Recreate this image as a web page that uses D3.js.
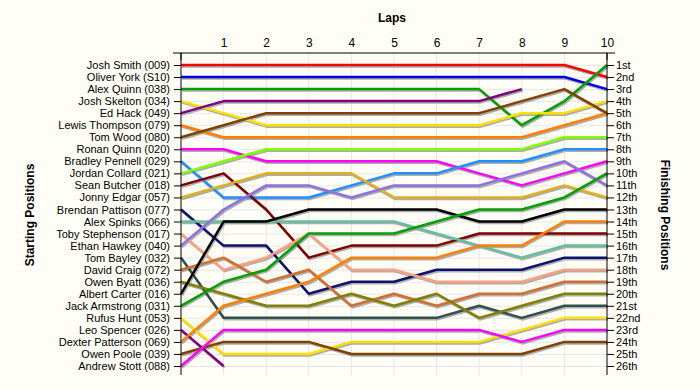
<!DOCTYPE html>
<html>
<head>
<meta charset="utf-8">
<script src="https://cdn.jsdelivr.net/npm/d3@7"></script>
<style>
  body { margin: 0; background: #fffef6; }
  svg { display: block; font-family: "Liberation Sans", Arial, sans-serif; }
  .axis path, .axis line { stroke: #000; }
  .axis text { font-size: 11px; fill: #000; }
  .grid line { stroke: #e6e6e6; }
</style>
</head>
<body>
<div class="bump-chart-container"></div>
<script>
const laps = [0, 1, 2, 3, 4, 5, 6, 7, 8, 9, 10];

const drivers = [
  "Josh Smith (009)", "Oliver York (S10)", "Alex Quinn (038)", "Josh Skelton (034)",
  "Ed Hack (049)", "Lewis Thompson (079)", "Tom Wood (080)", "Ronan Quinn (020)",
  "Bradley Pennell (029)", "Jordan Collard (021)", "Sean Butcher (018)", "Jonny Edgar (057)",
  "Brendan Pattison (077)", "Alex Spinks (066)", "Toby Stephenson (017)", "Ethan Hawkey (040)",
  "Tom Bayley (032)", "David Craig (072)", "Owen Byatt (036)", "Albert Carter (016)",
  "Jack Armstrong (031)", "Rufus Hunt (053)", "Leo Spencer (026)", "Dexter Patterson (069)",
  "Owen Poole (039)", "Andrew Stott (088)"
];

const finishLabels = [
  "1st", "2nd", "3rd", "4th", "5th", "6th", "7th", "8th", "9th", "10th", "11th", "12th", "13th",
  "14th", "15th", "16th", "17th", "18th", "19th", "20th", "21st", "22nd", "23rd", "24th", "25th", "26th"
];

// position of each driver at lap 0..10 (null = retired)
const positions = [
  [1, 1, 1, 1, 1, 1, 1, 1, 1, 1, 2],
  [2, 2, 2, 2, 2, 2, 2, 2, 2, 2, 3],
  [3, 3, 3, 3, 3, 3, 3, 3, 6, 4, 1],
  [4, 5, 6, 6, 6, 6, 6, 6, 5, 5, 4],
  [5, 4, 4, 4, 4, 4, 4, 4, 3, null, null],
  [6, 7, 7, 7, 7, 7, 7, 7, 7, 6, 5],
  [7, 6, 5, 5, 5, 5, 5, 5, 4, 3, 5],
  [8, 8, 9, 9, 9, 9, 9, 10, 11, 10, 9],
  [9, 12, 12, 12, 11, 10, 10, 9, 9, 8, 8],
  [10, 9, 8, 8, 8, 8, 8, 8, 8, 7, 7],
  [11, 10, 13, 17, 16, 16, 16, 15, 15, 15, 15],
  [12, 11, 10, 10, 10, 12, 12, 12, 12, 11, 12],
  [13, 16, 16, 20, 19, 19, 18, 18, 18, 17, 17],
  [14, 14, 14, 14, 14, 14, 15, 16, 17, 16, 16],
  [15, 18, 17, 15, 18, 18, 19, 19, 19, 18, 18],
  [16, 13, 11, 11, 12, 11, 11, 11, 10, 9, 11],
  [17, 22, 22, 22, 22, 22, 22, 21, 22, 21, 21],
  [18, 17, 19, 18, 21, 20, 21, 20, 20, 19, 19],
  [19, 20, 21, 21, 20, 21, 20, 22, 21, 20, 20],
  [20, 14, 14, 13, 13, 13, 13, 14, 14, 13, 13],
  [21, 19, 18, 15, 15, 15, 14, 13, 13, 12, 10],
  [22, 25, 25, 25, 24, 24, 24, 24, 23, 22, 22],
  [23, 26, null, null, null, null, null, null, null, null, null],
  [24, 21, 20, 19, 17, 17, 17, 16, 16, 14, 14],
  [25, 24, 24, 24, 25, 25, 25, 25, 25, 24, 24],
  [26, 23, 23, 23, 23, 23, 23, 23, 24, 23, 23]
];

const colors = [
  "#ff0000", "#0000e0", "#00a000", "#ffe000", "#800080", "#ff8000", "#804000", "#ff00ff",
  "#2090ff", "#80ff00", "#800000", "#e0b020", "#101070", "#60c0a0", "#ffa080", "#9070e0",
  "#305050", "#d07030", "#808000", "#000000", "#00a000", "#ffe000", "#800080", "#ff8000",
  "#804000", "#ff00ff"
];

const width = 700;
const height = 390;

const svg = d3.select(".bump-chart-container").append("svg")
  .attr("width", width)
  .attr("height", height);

svg.append("rect").attr("width", width).attr("height", height).attr("fill", "#fffef6");

const xScale = d3.scaleLinear().domain([0, 10]).range([181, 607]);
const yScale = d3.scaleLinear().domain([1, 26]).range([65, 366]);
const rows = d3.range(1, 27);

// grid
const grid = svg.append("g").attr("class", "grid");
grid.selectAll(".v").data(laps.slice(1, 10)).enter().append("line")
  .attr("x1", d => xScale(d)).attr("x2", d => xScale(d))
  .attr("y1", 53).attr("y2", 375);
grid.selectAll(".h").data(rows).enter().append("line")
  .attr("x1", 181).attr("x2", 607)
  .attr("y1", d => yScale(d) + 0.5).attr("y2", d => yScale(d) + 0.5)
  .attr("stroke", "#f0f0f0");

const line = d3.line()
  .defined(d => d != null)
  .x((d, i) => xScale(i))
  .y(d => yScale(d));

// shadows first, then coloured lines
svg.append("g").selectAll("path").data(positions).enter().append("path")
  .attr("d", line)
  .attr("transform", "translate(1,1.5)")
  .attr("fill", "none")
  .attr("stroke", "#999")
  .attr("stroke-opacity", 0.8)
  .attr("stroke-width", 2.5);

svg.append("g").selectAll("path").data(positions).enter().append("path")
  .attr("d", line)
  .attr("fill", "none")
  .attr("stroke", (d, i) => colors[i])
  .attr("stroke-width", 2.5)
  .attr("stroke-linejoin", "round");

// top axis
const xAxis = d3.axisTop(xScale).tickValues(laps.slice(1)).tickSize(0).tickPadding(6);
const gx = svg.append("g").attr("class", "axis")
  .attr("transform", "translate(0,53)")
  .call(xAxis);
gx.select(".domain").attr("d", "M173,0H615");
gx.selectAll(".tick text").style("font-size", "12px");
svg.append("g").attr("class", "axis").selectAll("line").data([0, 10]).enter().append("line")
  .attr("x1", d => xScale(d)).attr("x2", d => xScale(d))
  .attr("y1", 53).attr("y2", 60).attr("stroke", "#000");

// left axis
const yLeft = d3.axisLeft(yScale).tickValues(rows).tickSize(7).tickPadding(4)
  .tickFormat(d => drivers[d - 1]);
const gl = svg.append("g").attr("class", "axis")
  .attr("transform", "translate(181,0)")
  .call(yLeft);
gl.select(".domain").attr("d", "M0,53V375");

// right axis
const yRight = d3.axisRight(yScale).tickValues(rows).tickSize(7).tickPadding(2)
  .tickFormat(d => finishLabels[d - 1]);
const gr = svg.append("g").attr("class", "axis")
  .attr("transform", "translate(607,0)")
  .call(yRight);
gr.select(".domain").attr("d", "M0,53V375");

// titles
svg.append("text").attr("x", 392).attr("y", 22).attr("text-anchor", "middle")
  .style("font-size", "12px").style("font-weight", "bold").text("Laps");
svg.append("text").attr("transform", "translate(34,215) rotate(-90)").attr("text-anchor", "middle")
  .style("font-size", "12px").style("font-weight", "bold").text("Starting Positions");
svg.append("text").attr("transform", "translate(661,215) rotate(90)").attr("text-anchor", "middle")
  .style("font-size", "12px").style("font-weight", "bold").text("Finishing Positions");
</script>
</body>
</html>
